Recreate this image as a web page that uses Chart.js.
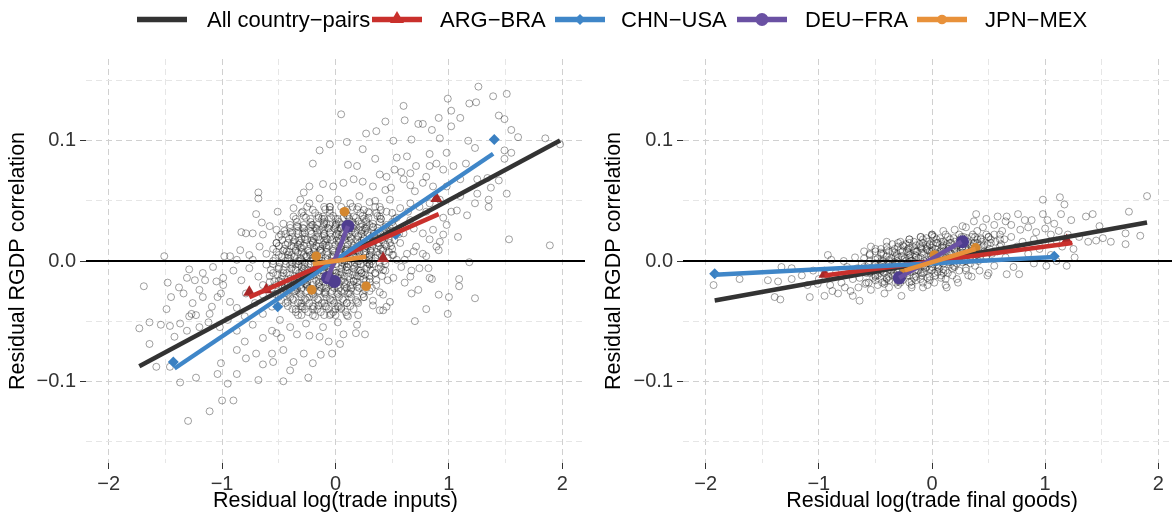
<!DOCTYPE html>
<html>
<head>
<meta charset="utf-8">
<script src="https://cdn.jsdelivr.net/npm/chart.js@4.4.1/dist/chart.umd.min.js"></script>
<style>
  html, body { margin: 0; padding: 0; background: #fff; overflow: hidden; }
  body { width: 1172px; height: 514px; position: relative; font-family: "Liberation Sans", Arial, sans-serif; }
  canvas { position: absolute; top: 0; }
  #leftChart { left: 0; }
  #rightChart { left: 596px; }
  .legKey { position: absolute; top: 8px; }
  .legText { position: absolute; top: 7px; font-size: 22px; line-height: 26px; color: #000; white-space: nowrap; }
</style>
</head>
<body>
<canvas id="leftChart" width="592" height="514"></canvas>
<canvas id="rightChart" width="592" height="514"></canvas>
<div id="legend"></div>
<script>
// series
const seriesNames = ['All country\u2212pairs', 'ARG\u2212BRA', 'CHN\u2212USA', 'DEU\u2212FRA', 'JPN\u2212MEX'];
const xTicks = [-2, -1.5, -1, -0.5, 0, 0.5, 1, 1.5, 2];
const yTicks = [-0.15, -0.1, -0.05, 0, 0.05, 0.1, 0.15];

// left panel: residual log(trade inputs)
const inAll    = [[-1.73, -0.0875], [1.98, 0.1003]];
const inArgBra = [[-0.76, -0.030], [0.91, 0.039]];
const inChnUsa = [[-1.42, -0.0894], [1.39, 0.0892]];
const inDeuFra = [[-0.08, -0.017], [0.11, 0.029]];
const inJpnMex = [[-0.20, -0.0025], [0.27, 0.0036]];
const inArgBraPts = [[-0.76, -0.026], [-0.61, -0.024], [0.42, 0.002], [0.89, 0.052]];
const inChnUsaPts = [[-1.43, -0.084], [-0.51, -0.038], [0.53, 0.022], [1.40, 0.101]];
const inDeuFraPts = [[-0.07, -0.014], [-0.01, -0.017], [0.11, 0.029]];
const inJpnMexPts = [[0.08, 0.041], [-0.17, 0.004], [-0.21, -0.024], [0.27, -0.021]];
const inCloud = [
  [1.26,0.145],[1.51,0.139],[1.39,0.137],[0.99,0.135],[1.24,0.132],[1.18,0.131],[0.60,0.129],[1.02,0.125],[0.91,0.119],[1.10,0.119],
  [1.44,0.121],[1.49,0.118],[0.05,0.122],[0.61,0.117],[0.73,0.114],[0.77,0.114],[0.44,0.116],[0.36,0.108],[0.27,0.106],[0.85,0.109],
  [1.55,0.109],[1.02,0.112],[0.10,0.099],[-0.05,0.097],[-0.14,0.092],[0.24,0.093],[0.51,0.100],[0.67,0.101],[0.92,0.102],[1.17,0.100],
  [1.61,0.103],[1.85,0.102],[1.98,0.097],[1.49,0.092],[1.55,0.090],[1.23,0.094],[0.98,0.090],[0.83,0.089],[0.63,0.087],[-0.20,0.081],
  [0.11,0.080],[0.35,0.085],[0.54,0.086],[1.49,0.085],[1.04,0.079],[1.15,0.081],[0.89,0.081],[0.80,0.070],[1.25,0.068],[1.44,0.067],
  [1.34,0.069],[1.37,0.061],[1.25,0.056],[1.51,0.056],[1.35,0.051],[1.35,0.045],[-0.23,0.062],[-0.28,0.057],[-0.68,0.057],[-0.68,0.052],
  [-0.51,0.041],[-0.70,0.039],[1.02,0.041],[1.07,0.042],[1.16,0.038],[0.95,0.036],[0.98,0.030],[1.08,0.020],[1.53,0.018],[1.89,0.013],
  [1.18,-0.001],[0.83,0.018],[0.91,0.009],[0.92,0.016],[-0.65,0.032],[-0.83,0.024],[-0.79,0.023],[-0.73,0.023],[-1.51,0.004],[-0.98,0.004],
  [-1.69,-0.021],[-1.48,-0.018],[-1.38,-0.022],[-1.31,-0.014],[-1.29,-0.007],[-1.24,-0.016],[-1.15,-0.016],[-1.45,-0.030],[-1.49,-0.040],[-1.64,-0.051],
  [-1.73,-0.056],[-1.54,-0.053],[-1.46,-0.054],[-1.42,-0.063],[-1.31,-0.058],[-1.64,-0.069],[-1.27,-0.044],[-1.23,-0.045],[-1.20,-0.024],[-1.12,-0.051],
  [-1.05,-0.017],[-1.04,-0.030],[-1.58,-0.088],[-1.46,-0.088],[-1.37,-0.101],[-1.23,-0.097],[-1.04,-0.094],[-1.01,-0.085],[-0.95,-0.102],[-1.00,-0.116],
  [-0.90,-0.116],[-1.11,-0.125],[-1.30,-0.133],[-0.79,-0.081],[-0.87,-0.094],[-0.68,-0.099],[-0.46,-0.100],[-0.24,-0.097],[-0.64,-0.086],[-0.55,-0.084],
  [-0.40,-0.091],[-0.37,-0.084],[-0.20,-0.085],[-0.03,-0.077],[-0.13,-0.078],[-0.28,-0.077],[-0.46,-0.074],[-0.56,-0.077],[-0.70,-0.077],[-0.87,-0.074],
  [-0.80,-0.067],[-0.64,-0.064],[-0.48,-0.064],[-0.34,-0.061],[-0.23,-0.062],[-0.14,-0.063],[-0.06,-0.067],[0.04,-0.069],[0.18,-0.060],[0.26,-0.061],
  [0.07,-0.061],[0.42,-0.041],[0.70,-0.050],[0.80,-0.040],[0.99,-0.044],[0.91,-0.028],[1.00,-0.030],[1.09,-0.021],[1.23,-0.031],[1.09,-0.015],
  [0.73,-0.024],[0.67,-0.027],[0.61,-0.018],[0.82,-0.006],[0.85,-0.015],[0.67,-0.008],[0.61,0.001],[0.77,0.006],[0.69,0.008],[0.46,-0.016],
  [0.42,-0.028],[0.48,-0.034],[0.39,-0.041],[0.33,-0.037],
  [0.19,0.079],[0.39,0.072],[0.45,0.070],[0.58,0.074],[0.66,0.073],[0.60,0.068],[0.66,0.063],[0.49,0.061],[0.44,0.059],[0.33,0.062],
  [0.24,0.066],[0.16,0.068],[0.07,0.065],[-0.02,0.062],[-0.11,0.064],[0.52,0.076],[0.71,0.079],[0.95,0.076],[0.83,0.079],[1.10,0.068],
  [0.98,0.062],[0.86,0.062],[0.77,0.065],[0.70,0.058],
  [-0.31,0.051],[-0.23,0.048],[-0.14,0.052],[-0.05,0.045],[0.02,0.051],[0.13,0.048],[0.21,0.054],[0.30,0.049],[0.39,0.045],[0.48,0.051],
  [0.57,0.044],[0.66,0.048],[0.74,0.045],[0.83,0.048],[0.92,0.051],[-0.37,0.044],[-0.29,0.041],[-0.09,0.043],[0.07,0.041],[0.19,0.043],
  [0.29,0.041],[0.45,0.041],[0.64,0.041],[0.80,0.041],[1.10,0.054],[1.23,0.048],
  [-0.58,0.029],[-0.52,0.026],[-0.46,0.031],[-0.40,0.024],[-0.34,0.029],[-0.29,0.023],[-0.21,0.030],[-0.14,0.026],[-0.08,0.031],[-0.01,0.027],
  [0.07,0.023],[0.16,0.030],[0.24,0.026],[0.33,0.031],[0.42,0.024],[0.51,0.029],[0.60,0.023],[0.69,0.027],[0.77,0.023],[0.86,0.026],
  [0.95,0.022],[-0.48,0.022],[-0.37,0.037],[-0.26,0.036],[-0.11,0.037],[0.02,0.035],[0.16,0.037],[0.27,0.034],[0.39,0.037],[0.54,0.036],
  [0.66,0.034],[-0.64,0.022],
  [-0.93,0.004],[-0.84,0.009],[-0.76,0.005],[-0.67,0.012],[-0.61,0.006],[-0.52,0.015],[-0.43,0.008],[-0.37,0.016],[-0.31,0.011],[-0.26,0.004],
  [-0.20,0.016],[-0.14,0.009],[-0.08,0.013],[-0.02,0.005],[0.04,0.016],[0.10,0.009],[0.16,0.004],[0.21,0.015],[0.27,0.008],[0.33,0.016],
  [0.39,0.006],[0.45,0.012],[0.51,0.005],[0.57,0.015],[0.63,0.006],[0.71,0.012],[0.80,0.004],[0.89,0.012],[-0.40,0.002],[-0.17,0.001],
  [0.07,0.001],[0.30,0.001],[0.54,0.001],[-0.87,0.001],[-0.73,0.001],
  [-1.17,-0.010],[-1.08,-0.005],[-0.99,-0.014],[-0.90,-0.008],[-0.83,-0.016],[-0.76,-0.006],[-0.68,-0.013],[-0.61,-0.003],[-0.54,-0.017],[-0.46,-0.010],
  [-0.40,-0.003],[-0.34,-0.016],[-0.29,-0.008],[-0.23,-0.013],[-0.17,-0.005],[-0.11,-0.017],[-0.05,-0.009],[0.02,-0.014],[0.10,-0.005],[0.16,-0.017],
  [0.23,-0.010],[0.30,-0.003],[0.36,-0.016],[0.44,-0.008],[0.51,-0.014],[0.58,-0.005],[0.66,-0.013],[0.74,-0.006],[0.83,-0.014],[-0.99,-0.020],
  [-0.64,-0.020],[-0.26,-0.019],
  [-1.34,-0.027],[-1.26,-0.035],[-1.17,-0.030],[-1.09,-0.038],[-1.01,-0.027],[-0.93,-0.034],[-0.87,-0.039],[-0.79,-0.027],[-0.71,-0.035],[-0.64,-0.028],
  [-0.56,-0.038],[-0.49,-0.027],[-0.42,-0.034],[-0.34,-0.024],[-0.29,-0.038],[-0.23,-0.030],[-0.15,-0.037],[-0.09,-0.026],[-0.02,-0.033],[0.05,-0.039],
  [0.11,-0.027],[0.19,-0.034],[0.26,-0.024],[0.33,-0.033],[0.39,-0.026],[0.45,-0.038],
  [-1.37,-0.052],[-1.29,-0.046],[-1.20,-0.055],[-1.11,-0.044],[-1.02,-0.055],[-0.95,-0.049],[-0.87,-0.058],[-0.80,-0.046],[-0.73,-0.053],[-0.64,-0.044],
  [-0.56,-0.058],[-0.49,-0.049],[-0.40,-0.055],[-0.33,-0.045],[-0.26,-0.052],[-0.18,-0.046],[-0.11,-0.055],[-0.04,-0.044],[0.02,-0.051],[0.11,-0.046],
  [0.19,-0.053],[-0.52,-0.060],
  [-0.45,-0.020],[-0.40,-0.015],[-0.35,-0.025],[-0.30,-0.005],[-0.25,-0.020],[-0.20,-0.010],[-0.15,-0.025],[-0.10,-0.005],[-0.05,-0.020],[0.00,-0.010],
  [0.05,-0.025],[0.10,-0.005],[0.15,-0.020],[0.20,0.000],[0.25,-0.015],[0.30,0.005],[0.35,-0.010],[0.40,0.010],[-0.42,0.005],[-0.37,0.012],
  [-0.32,0.000],[-0.27,0.018],[-0.22,0.005],[-0.17,0.020],[-0.12,0.000],[-0.07,0.018],[-0.02,0.003],[0.03,0.022],[0.08,0.000],[0.13,0.020],
  [0.18,0.008],[0.23,0.025],[0.28,0.012],[0.33,0.028],[0.38,0.015],[0.45,0.025],[0.50,0.010],[-0.30,-0.035],[-0.20,-0.040],[-0.10,-0.035],
  [0.00,-0.040],[0.10,-0.035],[0.20,-0.045],[-0.20,0.030],[-0.10,0.035],[0.00,0.030],[0.10,0.038],[0.20,0.033],[0.30,0.040],[0.40,0.035],
  [-0.35,-0.040],[-0.05,-0.045],[0.25,-0.030],[-0.15,0.012],[0.05,0.010],[0.22,-0.008],[-0.28,-0.012],[0.15,0.045],[-0.05,0.045],[0.35,0.050]
];
// dense core of the left cloud, one row per y value
const inCoreRows = [
  [0.045, [-0.25, -0.1, 0.05, 0.2, 0.35]],
  [0.0425, [-0.2, -0.05, 0.1, 0.25, 0.4]],
  [0.040, [-0.3, -0.18, -0.05, 0.08, 0.22, 0.36, 0.5]],
  [0.0375, [-0.28, -0.15, -0.02, 0.11, 0.24, 0.37]],
  [0.036, [-0.15, -0.04, 0.07, 0.18, 0.29]],
  [0.035, [-0.35, -0.22, -0.12, 0.0, 0.12, 0.25, 0.4, 0.52]],
  [0.0325, [-0.34, -0.22, -0.1, 0.03, 0.15, 0.27, 0.39, 0.5]],
  [0.031, [-0.1, 0.01, 0.12, 0.23]],
  [0.030, [-0.4, -0.28, -0.16, -0.05, 0.06, 0.18, 0.3, 0.45]],
  [0.0285, [-0.33, -0.22, -0.11, 0.0, 0.11, 0.22, 0.33, 0.44]],
  [0.0275, [-0.4, -0.29, -0.18, -0.07, 0.04, 0.15, 0.26, 0.37, 0.48]],
  [0.027, [-0.28, -0.17, -0.06, 0.05, 0.16, 0.27]],
  [0.025, [-0.45, -0.33, -0.22, -0.1, 0.02, 0.14, 0.26, 0.38, 0.5]],
  [0.0235, [-0.38, -0.27, -0.16, -0.05, 0.06, 0.17, 0.28, 0.39]],
  [0.0225, [-0.44, -0.33, -0.21, -0.1, 0.01, 0.12, 0.23, 0.34, 0.45, 0.56]],
  [0.021, [-0.1, 0.0, 0.1, 0.2, 0.3]],
  [0.020, [-0.5, -0.38, -0.27, -0.15, -0.04, 0.08, 0.2, 0.32, 0.44]],
  [0.0185, [-0.41, -0.3, -0.19, -0.08, 0.03, 0.14, 0.25, 0.36, 0.47]],
  [0.0175, [-0.47, -0.36, -0.25, -0.14, -0.03, 0.08, 0.19, 0.3, 0.41, 0.52]],
  [0.017, [-0.32, -0.21, -0.1, 0.01, 0.12, 0.23, 0.34]],
  [0.015, [-0.52, -0.42, -0.31, -0.2, -0.09, 0.03, 0.14, 0.26, 0.37, 0.48]],
  [0.0135, [-0.44, -0.33, -0.22, -0.11, 0.0, 0.11, 0.22, 0.33, 0.44]],
  [0.0125, [-0.5, -0.39, -0.28, -0.17, -0.06, 0.05, 0.16, 0.27, 0.38, 0.49]],
  [0.011, [-0.3, -0.19, -0.08, 0.04, 0.15, 0.26]],
  [0.010, [-0.55, -0.45, -0.35, -0.24, -0.13, -0.02, 0.09, 0.2, 0.31, 0.42]],
  [0.0085, [-0.46, -0.35, -0.24, -0.13, -0.02, 0.09, 0.2, 0.31, 0.42]],
  [0.0075, [-0.52, -0.41, -0.3, -0.19, -0.08, 0.03, 0.14, 0.25, 0.36, 0.47]],
  [0.007, [-0.33, -0.23, -0.12, -0.01, 0.1, 0.21, 0.32]],
  [0.005, [-0.5, -0.39, -0.28, -0.18, -0.07, 0.04, 0.15, 0.26, 0.37, 0.5]],
  [0.0035, [-0.47, -0.36, -0.25, -0.14, -0.03, 0.08, 0.19, 0.3, 0.41]],
  [0.0025, [-0.53, -0.42, -0.31, -0.2, -0.09, 0.02, 0.13, 0.24, 0.35, 0.46]],
  [0.001, [-0.3, -0.19, -0.07, 0.05, 0.16, 0.27]],
  [0.000, [-0.55, -0.44, -0.33, -0.22, -0.12, -0.01, 0.1, 0.21, 0.32, 0.43]],
  [-0.0015, [-0.49, -0.38, -0.27, -0.16, -0.05, 0.06, 0.17, 0.28, 0.39]],
  [-0.0025, [-0.55, -0.44, -0.33, -0.22, -0.11, 0.0, 0.11, 0.22, 0.33, 0.44]],
  [-0.003, [-0.35, -0.24, -0.14, -0.03, 0.08, 0.19, 0.3]],
  [-0.005, [-0.5, -0.38, -0.27, -0.16, -0.05, 0.06, 0.17, 0.28, 0.4]],
  [-0.0065, [-0.5, -0.39, -0.28, -0.17, -0.06, 0.05, 0.16, 0.27, 0.38]],
  [-0.0075, [-0.57, -0.46, -0.35, -0.24, -0.13, -0.02, 0.09, 0.2, 0.31, 0.42]],
  [-0.009, [-0.3, -0.18, -0.06, 0.05, 0.16]],
  [-0.010, [-0.55, -0.43, -0.32, -0.21, -0.1, 0.01, 0.12, 0.23, 0.35]],
  [-0.0115, [-0.51, -0.4, -0.29, -0.18, -0.07, 0.04, 0.15, 0.26]],
  [-0.0125, [-0.58, -0.47, -0.36, -0.25, -0.14, -0.03, 0.08, 0.19, 0.3, 0.41]],
  [-0.013, [-0.33, -0.22, -0.11, 0.0, 0.11, 0.22]],
  [-0.015, [-0.48, -0.37, -0.26, -0.15, -0.04, 0.07, 0.18, 0.3]],
  [-0.0165, [-0.5, -0.39, -0.28, -0.17, -0.06, 0.05, 0.16, 0.27]],
  [-0.0175, [-0.58, -0.47, -0.36, -0.25, -0.14, -0.03, 0.08, 0.19, 0.3]],
  [-0.019, [-0.27, -0.15, -0.03, 0.09]],
  [-0.020, [-0.52, -0.42, -0.31, -0.2, -0.09, 0.02, 0.13, 0.25, 0.36]],
  [-0.0215, [-0.47, -0.36, -0.25, -0.14, -0.03, 0.08, 0.19]],
  [-0.0225, [-0.56, -0.45, -0.34, -0.23, -0.12, -0.01, 0.1, 0.21, 0.32]],
  [-0.023, [-0.3, -0.19, -0.08, 0.03, 0.14]],
  [-0.025, [-0.46, -0.36, -0.25, -0.14, -0.03, 0.08, 0.19, 0.3]],
  [-0.0265, [-0.43, -0.32, -0.21, -0.1, 0.01, 0.12]],
  [-0.0275, [-0.53, -0.42, -0.31, -0.2, -0.09, 0.02, 0.13, 0.24]],
  [-0.030, [-0.5, -0.4, -0.3, -0.19, -0.08, 0.03, 0.14, 0.25]],
  [-0.0315, [-0.38, -0.27, -0.16, -0.05, 0.06]],
  [-0.0325, [-0.48, -0.37, -0.26, -0.15, -0.04, 0.07, 0.18]],
  [-0.035, [-0.44, -0.33, -0.23, -0.12, -0.01, 0.1, 0.2]],
  [-0.0375, [-0.42, -0.31, -0.2, -0.09, 0.02, 0.13]],
  [-0.038, [-0.3, -0.19, -0.08, 0.03]],
  [-0.040, [-0.38, -0.27, -0.16, -0.06, 0.05, 0.16]],
  [-0.0425, [-0.35, -0.24, -0.13, -0.02, 0.09]],
  [-0.045, [-0.3, -0.2, -0.1, 0.0, 0.1]]
];

// right panel: residual log(trade final goods)
const fgAll    = [[-1.92, -0.0328], [1.90, 0.032]];
const fgArgBra = [[-0.95, -0.012], [1.24, 0.015]];
const fgChnUsa = [[-1.92, -0.0114], [1.08, 0.0033]];
const fgDeuFra = [[-0.29, -0.014], [0.26, 0.016]];
const fgJpnMex = [[-0.24, -0.0078], [0.385, 0.010]];
const fgArgBraPts = [[-0.95, -0.011], [1.19, 0.017]];
const fgChnUsaPts = [[-1.92, -0.0106], [1.08, 0.0039]];
const fgDeuFraPts = [[-0.29, -0.014], [0.27, 0.016]];
const fgJpnMexPts = [[-0.24, -0.007], [0.02, 0.005], [0.385, 0.011]];
const fgCloud = [
  [1.90,0.054],[1.13,0.053],[0.98,0.051],[1.17,0.047],[1.74,0.041],[0.98,0.039],[0.39,0.039],[0.76,0.039],[1.14,0.039],[1.36,0.037],
  [1.42,0.039],[1.23,0.034],[1.08,0.031],[0.66,0.037],[0.58,0.037],[0.82,0.034],[0.37,0.033],[0.27,0.029],[1.48,0.029],[1.71,0.023],
  [1.84,0.021],[1.38,0.016],[1.45,0.017],[1.51,0.019],[1.58,0.016],[1.71,0.014],[1.26,0.003],[1.19,-0.004],[1.01,-0.004],[0.77,-0.011],
  [0.66,-0.011],[0.00,0.021],[-0.40,0.016],[-0.54,0.012],[-0.89,0.001],[-1.24,-0.006],[-1.33,-0.005],[-1.45,-0.016],[-1.36,-0.017],[-1.24,-0.015],
  [-1.93,-0.020],[-1.70,-0.015],[-1.39,-0.030],[-1.34,-0.032],[-1.08,-0.030],[-0.95,-0.029],[-0.83,-0.027],[-0.70,-0.029],[-0.64,-0.033],[-0.54,-0.024],
  [-0.42,-0.027],[-0.27,-0.029],[-0.18,-0.022],[-0.04,-0.020],[0.13,-0.022],[0.23,-0.018],[0.35,-0.013],[0.49,-0.012],[-1.01,-0.019],[-0.77,-0.022],
  [-0.59,-0.019],[-0.42,-0.019],[-1.15,-0.012],
  [0.45,0.028],[0.55,0.030],[0.62,0.025],[0.70,0.030],[0.78,0.026],[0.85,0.028],[0.92,0.024],[1.00,0.027],[1.05,0.022],[1.12,0.025],
  [1.20,0.022],[1.30,0.020],[0.50,0.020],[0.60,0.018],[0.70,0.020],[0.80,0.016],[0.90,0.018],[1.00,0.015],[1.10,0.017],[0.65,0.033],
  [0.88,0.034],[1.02,0.034],[0.48,0.035],[0.75,0.012],[0.95,0.010],[1.15,0.012],[0.55,0.008],[0.85,0.006],[1.05,0.005],[0.65,0.003],
  [1.25,0.010],[1.10,0.000],[0.90,-0.002],[0.72,-0.005],[0.55,-0.004],
  [-0.60,-0.005],[-0.55,0.005],[-0.50,-0.012],[-0.45,0.000],[-0.40,-0.015],[-0.35,0.008],[-0.30,-0.008],[-0.25,0.012],[-0.20,-0.012],[-0.15,0.005],
  [-0.10,-0.015],[-0.05,0.010],[0.00,-0.005],[0.05,0.015],[0.10,-0.010],[0.15,0.012],[0.20,-0.005],[0.25,0.018],[0.30,0.000],[0.35,0.020],
  [0.40,0.005],[-0.58,-0.018],[-0.48,-0.020],[-0.38,-0.022],[-0.28,-0.018],[-0.18,-0.020],[-0.08,-0.022],[0.02,-0.018],[0.12,-0.020],[0.22,-0.015],
  [0.32,-0.012],[0.42,-0.008],[-0.50,0.010],[-0.40,0.012],[-0.30,0.015],[-0.20,0.018],[-0.10,0.020],[0.00,0.022],[0.10,0.025],[0.20,0.026],
  [0.30,0.028],[0.40,0.025],[-0.45,-0.008],[-0.35,-0.003],[-0.25,-0.005],[-0.15,-0.008],[-0.05,-0.002],[0.05,0.000],[0.15,0.003],[0.25,0.006],
  [0.35,0.010],[0.45,0.012],[-0.33,-0.012],[-0.23,0.000],[-0.13,0.008],[-0.03,0.004],[0.07,0.008],[0.17,0.015],[0.27,0.012],[0.37,0.015],
  [0.08,-0.012],[-0.08,-0.010],[-0.20,0.005],[0.20,0.010],
  [-1.00,-0.015],[-0.95,-0.008],[-0.90,-0.020],[-0.85,-0.010],[-0.80,-0.018],[-0.75,-0.005],[-0.70,-0.015],[-0.65,-0.022],[-0.62,-0.008],[-0.72,-0.025],
  [-0.88,-0.025],[-0.78,0.000],[-0.68,0.003],[-1.10,-0.020],[-1.05,-0.008],[-0.92,0.005],
  [-0.55,-0.010],[-0.45,0.006],[-0.42,-0.010],[-0.32,0.004],[-0.27,-0.014],[-0.22,0.008],[-0.12,-0.004],[-0.02,0.014],[0.03,-0.012],[0.13,0.006],
  [0.18,-0.012],[0.23,0.002],[0.28,0.020],[0.33,0.006],[0.38,-0.004],[0.43,0.018],[0.48,0.004],[-0.38,0.000],[-0.18,0.000],[0.00,0.008],
  [0.10,0.016],[0.30,-0.008],[-0.10,0.012],[-0.30,-0.020],[0.12,-0.015],[-0.60,0.008],[-0.70,-0.010],[0.60,0.012],[0.55,0.022],[0.50,-0.010]
];
// dense core of the right cloud, one row per y value
const fgCoreRows = [
  [0.022, [0.0, 0.12, 0.24, 0.36, 0.48, 0.6]],
  [0.020, [-0.1, 0.02, 0.14, 0.26, 0.38, 0.5]],
  [0.019, [-0.05, 0.07, 0.19, 0.31, 0.43]],
  [0.018, [-0.2, -0.08, 0.04, 0.16, 0.28, 0.4, 0.52, 0.64]],
  [0.016, [-0.28, -0.16, -0.04, 0.08, 0.2, 0.32, 0.44, 0.56]],
  [0.015, [-0.2, -0.08, 0.04, 0.16, 0.28, 0.4, 0.52]],
  [0.014, [-0.35, -0.23, -0.11, 0.01, 0.13, 0.25, 0.37, 0.49, 0.61]],
  [0.013, [-0.26, -0.14, -0.02, 0.1, 0.22, 0.34, 0.46]],
  [0.012, [-0.3, -0.17, -0.04, 0.09, 0.22, 0.35]],
  [0.011, [-0.2, -0.1, 0.0, 0.1, 0.2, 0.3]],
  [0.010, [-0.45, -0.33, -0.21, -0.09, 0.03, 0.15, 0.27, 0.39, 0.51]],
  [0.009, [-0.4, -0.28, -0.16, -0.04, 0.08, 0.2, 0.32, 0.44]],
  [0.008, [-0.5, -0.38, -0.26, -0.14, -0.02, 0.1, 0.22, 0.34, 0.46, 0.58]],
  [0.007, [-0.45, -0.33, -0.21, -0.09, 0.03, 0.15, 0.27, 0.39]],
  [0.006, [-0.55, -0.43, -0.31, -0.19, -0.07, 0.05, 0.17, 0.29, 0.41, 0.53]],
  [0.004, [-0.4, -0.27, -0.14, -0.01, 0.12, 0.25, 0.38]],
  [0.003, [-0.3, -0.2, -0.1, 0.0, 0.1, 0.2]],
  [0.002, [-0.6, -0.48, -0.36, -0.24, -0.12, 0.0, 0.12, 0.24, 0.36, 0.48]],
  [0.001, [-0.5, -0.38, -0.26, -0.14, -0.02, 0.1, 0.22, 0.34]],
  [0.000, [-0.55, -0.43, -0.31, -0.19, -0.07, 0.05, 0.17, 0.29, 0.41]],
  [-0.001, [-0.45, -0.33, -0.21, -0.09, 0.03, 0.15, 0.27]],
  [-0.002, [-0.62, -0.5, -0.38, -0.26, -0.14, -0.02, 0.1, 0.22, 0.34]],
  [-0.003, [-0.56, -0.44, -0.32, -0.2, -0.08, 0.04, 0.16]],
  [-0.004, [-0.46, -0.33, -0.2, -0.07, 0.06, 0.19]],
  [-0.005, [-0.35, -0.25, -0.15, -0.05, 0.05]],
  [-0.006, [-0.66, -0.54, -0.42, -0.3, -0.18, -0.06, 0.06, 0.18, 0.3]],
  [-0.007, [-0.5, -0.38, -0.26, -0.14, -0.02, 0.1]],
  [-0.008, [-0.6, -0.48, -0.36, -0.24, -0.12, 0.0, 0.12, 0.24]],
  [-0.009, [-0.55, -0.43, -0.31, -0.19, -0.07, 0.05]],
  [-0.010, [-0.7, -0.58, -0.46, -0.34, -0.22, -0.1, 0.02, 0.14]],
  [-0.012, [-0.48, -0.35, -0.22, -0.09]],
  [-0.013, [-0.5, -0.38, -0.26, -0.14, -0.02]],
  [-0.014, [-0.64, -0.52, -0.4, -0.28, -0.16, -0.04, 0.08]],
  [-0.016, [-0.5, -0.38, -0.26, -0.14, -0.02]],
  [-0.017, [-0.42, -0.3, -0.18]],
  [-0.018, [-0.56, -0.44, -0.32, -0.2, -0.08]]
];

const lineColors   = ['#333333', '#C9302C', '#3F86C8', '#6A51A3', '#E8913A'];
const markerColors = ['#333333', '#A82828', '#3A80C2', '#4E3D8F', '#D4872F'];
const markerStyles = [null, 'triangle', 'rectRot', 'circle', 'circle'];
const markerRadius = [0, 7, 5.5, 6.5, 4.8];

Chart.defaults.font.family = '"Liberation Sans", Arial, sans-serif';

const toXY = arr => arr.map(([x, y]) => ({ x: x, y: y }));
const rowsToPts = rows => rows.flatMap(([y, xs]) => xs.map(x => [x, y]));
const minus = s => s.replace('-', '\u2212');
const isTenth = v => Math.abs(v * 10 - Math.round(v * 10)) < 1e-6;

const zeroLine = {
    id: 'zeroLine',
    beforeDatasetsDraw(chart) {
        const { ctx, chartArea, scales } = chart;
        const y = scales.y.getPixelForValue(0);
        ctx.save();
        ctx.strokeStyle = '#000';
        ctx.lineWidth = 2;
        ctx.beginPath();
        ctx.moveTo(chartArea.left, y);
        ctx.lineTo(chartArea.right, y);
        ctx.stroke();
        ctx.restore();
    }
};

function makePanel(id, cloud, lines, markers, xTitle, yWidth) {
    const datasets = [];
    // fitted lines, last series on top
    lines.forEach((ln, i) => {
        datasets.push({
            data: toXY(ln),
            showLine: true,
            borderColor: lineColors[i],
            borderWidth: 4.5,
            pointRadius: 0,
            order: 5 - i
        });
    });
    markers.forEach((pts, j) => {
        const i = j + 1;
        datasets.push({
            data: toXY(pts),
            pointStyle: markerStyles[i],
            pointRadius: markerRadius[i],
            backgroundColor: markerColors[i],
            borderWidth: 0,
            order: 6
        });
    });
    datasets.push({
        data: toXY(cloud),
        pointRadius: 3.5,
        pointBorderWidth: 1,
        pointBorderColor: 'rgba(20,20,20,0.4)',
        pointBackgroundColor: 'rgba(0,0,0,0)',
        order: 7
    });

    return new Chart(document.getElementById(id), {
        type: 'scatter',
        data: { datasets },
        options: {
            responsive: false,
            animation: false,
            layout: { padding: { top: 59, right: 7, bottom: 0, left: 0 } },
            plugins: { legend: { display: false }, tooltip: { enabled: false } },
            scales: {
                x: {
                    min: -2.2, max: 2.2,
                    afterBuildTicks: s => { s.ticks = xTicks.map(v => ({ value: v })); },
                    afterFit: s => { s.height = 51; },
                    border: { display: false, dash: [6, 4] },
                    grid: {
                        color: c => Number.isInteger(c.tick.value) ? '#d0d0d0' : '#e6e6e6',
                        tickColor: c => Number.isInteger(c.tick.value) ? '#333' : 'rgba(0,0,0,0)',
                        tickBorderDash: [],
                        tickLength: 6
                    },
                    ticks: {
                        autoSkip: false, maxRotation: 0, padding: 3,
                        color: '#333', font: { size: 20 },
                        callback: v => Number.isInteger(v) ? minus(String(v)) : ''
                    },
                    title: { display: true, text: xTitle, color: '#000', font: { size: 21.5 }, padding: { top: 0, bottom: 0 } }
                },
                y: {
                    min: -0.168, max: 0.168,
                    afterBuildTicks: s => { s.ticks = yTicks.map(v => ({ value: v })); },
                    afterFit: s => { s.width = yWidth; },
                    border: { display: false, dash: [6, 4] },
                    grid: {
                        color: c => isTenth(c.tick.value) ? '#d0d0d0' : '#e6e6e6',
                        tickColor: c => isTenth(c.tick.value) ? '#333' : 'rgba(0,0,0,0)',
                        tickBorderDash: [],
                        tickLength: 6
                    },
                    ticks: {
                        padding: 4, color: '#333', font: { size: 20 },
                        callback: v => isTenth(v) ? minus(v.toFixed(1)) : ''
                    },
                    title: { display: true, text: 'Residual RGDP correlation', color: '#000', font: { size: 21.5 }, padding: { top: 5, bottom: 0 } }
                }
            }
        },
        plugins: [zeroLine]
    });
}

makePanel('leftChart', inCloud.concat(rowsToPts(inCoreRows)),
    [inAll, inArgBra, inChnUsa, inDeuFra, inJpnMex],
    [inArgBraPts, inChnUsaPts, inDeuFraPts, inJpnMexPts],
    'Residual log(trade inputs)', 86);

makePanel('rightChart', fgCloud.concat(rowsToPts(fgCoreRows)),
    [fgAll, fgArgBra, fgChnUsa, fgDeuFra, fgJpnMex],
    [fgArgBraPts, fgChnUsaPts, fgDeuFraPts, fgJpnMexPts],
    'Residual log(trade final goods)', 87);

// legend
const legendKeyX = [137, 372, 555, 737, 917];
const legendTextX = [207, 440, 621, 805, 985];
const legend = document.getElementById('legend');
seriesNames.forEach((name, i) => {
    let shape = '';
    const c = lineColors[i];
    if (markerStyles[i] === 'triangle') shape = `<polygon points="25,3 32,15 18,15" fill="${c}"/>`;
    if (markerStyles[i] === 'rectRot') shape = `<polygon points="25,6 30.5,11.5 25,17 19.5,11.5" fill="${c}"/>`;
    if (markerStyles[i] === 'circle') shape = `<circle cx="25" cy="11.5" r="${markerRadius[i]}" fill="${c}"/>`;
    legend.insertAdjacentHTML('beforeend',
        `<svg class="legKey" style="left:${legendKeyX[i]}px" width="50" height="23">` +
        `<line x1="0" y1="11.5" x2="50" y2="11.5" stroke="${c}" stroke-width="5.5"/>${shape}</svg>` +
        `<div class="legText" style="left:${legendTextX[i]}px">${name}</div>`);
});
</script>
</body>
</html>
